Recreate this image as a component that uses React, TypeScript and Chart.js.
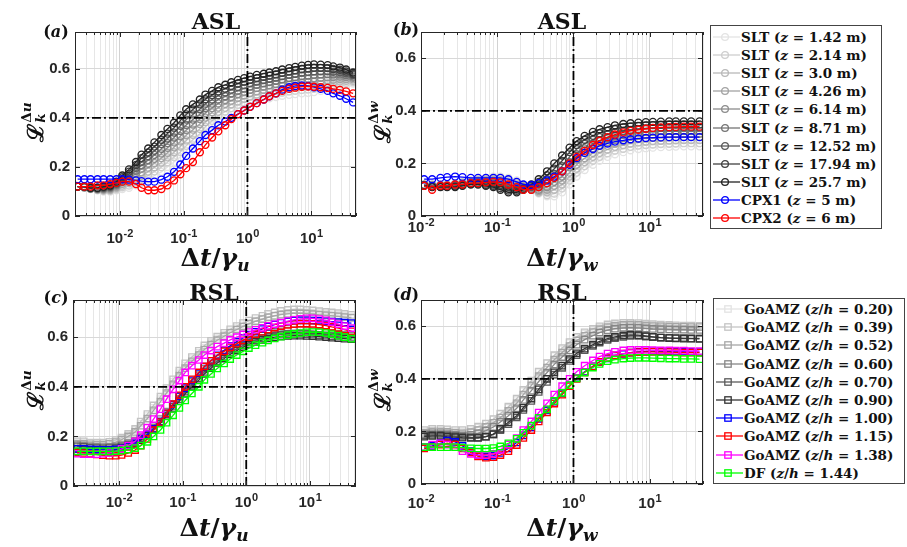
import React, { useEffect, useRef } from 'react';
import { Chart, registerables } from 'chart.js';

Chart.register(...registerables);

// ---------------- data ----------------
// time lags (normalised) shared by the u-panels and the w-panels
const LAGS_U = [0.0022, 0.0028, 0.0035, 0.0045, 0.0056, 0.0071, 0.0089, 0.011, 0.014, 0.018, 0.022, 0.028, 0.035, 0.045, 0.056, 0.071, 0.089, 0.11, 0.14, 0.18, 0.22, 0.28, 0.35, 0.45, 0.56, 0.71, 0.89, 1.1, 1.4, 1.8, 2.2, 2.8, 3.5, 4.5, 5.6, 7.1, 8.9, 11, 14, 18, 22, 28, 35, 45];
const LAGS_W = [0.011, 0.014, 0.018, 0.022, 0.028, 0.035, 0.045, 0.056, 0.071, 0.089, 0.11, 0.14, 0.18, 0.22, 0.28, 0.35, 0.45, 0.56, 0.71, 0.89, 1.1, 1.4, 1.8, 2.2, 2.8, 3.5, 4.5, 5.6, 7.1, 8.9, 11, 14, 18, 22, 28, 35, 45];

const SLT_HEIGHTS = ['1.42', '2.14', '3.0', '4.26', '6.14', '8.71', '12.52', '17.94', '25.7'];
const CPX_NAMES = ['CPX1', 'CPX2'];
const CPX_HEIGHTS = ['5', '6'];
const GOAMZ_ZH = ['0.20', '0.39', '0.52', '0.60', '0.70', '0.90', '1.00', '1.15', '1.38'];
const DF_ZH = '1.44';

const REF_LEVEL = 0.4;
const REF_LAG = 1;

// (a) ASL, u
const A_SLT142 = [.12,.115,.11,.105,.1,.1,.105,.11,.115,.125,.135,.15,.165,.18,.2,.22,.24,.265,.29,.315,.345,.37,.392,.41,.425,.438,.45,.46,.468,.475,.48,.485,.49,.494,.497,.5,.502,.505,.51,.515,.522,.53,.535,.54];
const A_SLT214 = [.12,.116,.111,.106,.103,.103,.109,.117,.124,.137,.149,.166,.182,.199,.219,.24,.261,.286,.311,.335,.364,.388,.409,.426,.44,.453,.464,.474,.481,.488,.493,.498,.503,.508,.511,.514,.516,.519,.523,.528,.533,.539,.543,.546];
const A_SLT300 = [.12,.116,.111,.108,.105,.106,.114,.124,.134,.149,.164,.181,.199,.218,.239,.26,.283,.308,.331,.355,.383,.405,.425,.441,.455,.467,.478,.487,.495,.501,.506,.511,.517,.521,.525,.528,.531,.533,.537,.54,.544,.549,.551,.551];
const A_SLT426 = [.12,.117,.112,.109,.108,.109,.118,.131,.143,.161,.178,.197,.216,.236,.258,.28,.304,.329,.352,.375,.401,.423,.442,.457,.47,.482,.492,.501,.508,.514,.519,.524,.53,.535,.539,.542,.545,.547,.55,.553,.555,.558,.558,.557];
const A_SLT614 = [.12,.118,.113,.11,.11,.113,.123,.138,.153,.173,.193,.213,.233,.255,.278,.3,.325,.35,.373,.395,.42,.44,.459,.473,.485,.497,.506,.514,.522,.528,.533,.538,.544,.549,.553,.557,.559,.562,.564,.565,.566,.568,.566,.563];
const A_SLT871 = [.12,.118,.113,.111,.113,.116,.127,.144,.162,.184,.207,.228,.249,.274,.297,.32,.346,.371,.393,.415,.439,.458,.475,.488,.5,.511,.52,.528,.535,.541,.546,.551,.557,.562,.566,.571,.573,.576,.577,.578,.577,.577,.574,.568];
const A_SLT1252 = [.12,.119,.114,.113,.115,.119,.131,.151,.171,.196,.221,.244,.266,.293,.316,.34,.368,.393,.414,.435,.458,.475,.492,.504,.515,.526,.534,.541,.548,.554,.559,.564,.57,.576,.58,.585,.588,.59,.59,.59,.588,.586,.582,.574];
const A_SLT1794 = [.12,.119,.114,.114,.118,.122,.136,.158,.181,.208,.236,.259,.283,.311,.336,.36,.389,.414,.434,.455,.476,.493,.508,.519,.53,.54,.548,.555,.562,.567,.572,.577,.584,.589,.594,.599,.602,.604,.604,.603,.599,.596,.589,.579];
const A_SLT2570 = [.12,.12,.115,.115,.12,.125,.14,.165,.19,.22,.25,.275,.3,.33,.355,.38,.41,.435,.455,.475,.495,.51,.525,.535,.545,.555,.562,.568,.575,.58,.585,.59,.597,.603,.608,.613,.616,.618,.617,.615,.61,.605,.597,.585];
const A_CPX1 = [.15,.15,.15,.15,.15,.15,.15,.15,.148,.145,.142,.14,.14,.148,.16,.18,.21,.245,.275,.305,.33,.35,.37,.385,.4,.415,.43,.445,.46,.475,.488,.5,.515,.525,.53,.532,.53,.525,.518,.51,.5,.49,.478,.463];
const A_CPX2 = [.12,.12,.12,.125,.125,.13,.135,.14,.14,.13,.115,.105,.105,.11,.125,.145,.17,.195,.22,.26,.29,.32,.345,.37,.395,.415,.43,.445,.46,.475,.488,.5,.51,.518,.523,.527,.528,.527,.525,.522,.518,.514,.508,.5];

// (b) ASL, w
const B_SLT142 = [.12,.12,.12,.12,.125,.13,.135,.14,.145,.15,.15,.145,.135,.12,.10,.085,.075,.075,.09,.12,.15,.175,.195,.21,.225,.235,.243,.25,.255,.258,.26,.262,.263,.264,.265,.265,.265];
const B_SLT214 = [.119,.119,.119,.119,.123,.128,.133,.138,.141,.145,.144,.138,.129,.118,.10,.088,.08,.085,.105,.135,.165,.19,.21,.225,.239,.249,.256,.263,.268,.27,.272,.274,.275,.276,.277,.277,.277];
const B_SLT300 = [.119,.118,.118,.118,.121,.126,.131,.135,.138,.14,.138,.131,.124,.115,.10,.09,.09,.10,.12,.15,.18,.205,.225,.24,.253,.263,.27,.276,.28,.283,.285,.286,.287,.288,.289,.289,.289];
const B_SLT426 = [.118,.116,.116,.116,.119,.124,.129,.133,.134,.135,.131,.124,.118,.113,.10,.095,.10,.115,.135,.165,.195,.22,.24,.255,.267,.276,.283,.289,.293,.295,.297,.298,.299,.3,.301,.301,.301];
const B_SLT614 = [.118,.115,.115,.115,.118,.123,.128,.13,.13,.13,.125,.118,.113,.11,.10,.10,.11,.13,.15,.185,.215,.24,.258,.27,.282,.29,.297,.302,.305,.308,.309,.311,.312,.312,.313,.313,.313];
const B_SLT871 = [.117,.114,.114,.114,.116,.121,.126,.128,.126,.125,.119,.111,.107,.108,.105,.11,.125,.145,.17,.205,.235,.257,.274,.285,.296,.304,.31,.314,.318,.32,.321,.323,.324,.324,.324,.324,.324];
const B_SLT1252 = [.116,.113,.113,.113,.114,.119,.124,.125,.123,.12,.113,.104,.101,.105,.11,.12,.14,.16,.19,.225,.255,.275,.29,.30,.31,.318,.323,.327,.33,.333,.334,.335,.336,.336,.336,.336,.336];
const B_SLT1794 = [.116,.111,.111,.111,.112,.117,.122,.123,.119,.115,.106,.097,.096,.103,.115,.13,.155,.18,.21,.243,.27,.29,.305,.315,.324,.331,.337,.34,.343,.345,.346,.347,.348,.348,.348,.348,.348];
const B_SLT2570 = [.115,.11,.11,.11,.11,.115,.12,.12,.115,.11,.10,.09,.09,.10,.12,.14,.17,.20,.23,.26,.285,.305,.32,.33,.338,.345,.35,.353,.355,.357,.358,.359,.36,.36,.36,.36,.36];
const B_CPX1 = [.14,.14,.145,.148,.15,.148,.145,.145,.145,.145,.145,.14,.13,.12,.118,.125,.135,.15,.17,.195,.22,.24,.255,.267,.276,.283,.288,.292,.295,.297,.298,.299,.3,.3,.3,.3,.3];
const B_CPX2 = [.115,.10,.115,.115,.12,.12,.125,.125,.128,.13,.128,.12,.11,.10,.10,.11,.125,.145,.17,.20,.225,.248,.27,.287,.30,.31,.318,.324,.328,.332,.335,.337,.338,.339,.34,.34,.34];

// (c) RSL, u
const C_G020 = [.175,.175,.172,.17,.17,.172,.18,.19,.205,.225,.252,.282,.315,.35,.385,.42,.455,.485,.512,.537,.558,.577,.594,.61,.624,.637,.648,.658,.667,.675,.682,.688,.693,.697,.699,.70,.70,.699,.697,.695,.693,.69,.687,.683];
const C_G039 = [.18,.18,.175,.175,.175,.178,.185,.195,.21,.23,.26,.29,.325,.36,.395,.43,.465,.495,.52,.545,.567,.585,.602,.618,.632,.645,.657,.667,.677,.686,.694,.70,.706,.71,.712,.712,.71,.708,.705,.702,.70,.697,.694,.69];
const C_G052 = [.17,.17,.168,.167,.167,.17,.177,.187,.2,.218,.243,.272,.305,.34,.375,.41,.445,.475,.503,.528,.55,.57,.588,.604,.618,.631,.643,.654,.664,.673,.68,.686,.691,.694,.696,.696,.695,.693,.69,.688,.686,.684,.681,.678];
const C_G060 = [.165,.163,.16,.158,.157,.158,.16,.165,.172,.182,.197,.217,.242,.27,.3,.33,.36,.39,.42,.447,.472,.495,.515,.533,.55,.565,.578,.59,.6,.608,.615,.62,.624,.627,.628,.628,.627,.625,.622,.62,.617,.614,.61,.606];
const C_G070 = [.16,.158,.155,.153,.152,.153,.155,.16,.167,.177,.192,.21,.233,.26,.29,.32,.35,.38,.408,.435,.46,.483,.503,.521,.538,.553,.566,.578,.588,.596,.602,.607,.61,.612,.613,.613,.612,.61,.608,.606,.604,.602,.6,.598];
const C_G090 = [.15,.148,.146,.145,.145,.146,.148,.153,.16,.17,.185,.203,.226,.253,.282,.312,.342,.372,.4,.427,.452,.475,.496,.514,.531,.546,.559,.571,.581,.589,.595,.6,.603,.605,.606,.606,.605,.604,.602,.6,.598,.596,.594,.592];
const C_G100 = [.15,.15,.148,.147,.146,.146,.148,.152,.16,.172,.19,.208,.23,.26,.293,.328,.362,.395,.426,.455,.481,.505,.527,.547,.565,.582,.597,.61,.622,.633,.643,.651,.658,.663,.667,.668,.668,.667,.666,.665,.663,.661,.659,.657];
const C_G115 = [.135,.133,.13,.127,.124,.122,.122,.125,.133,.145,.163,.19,.225,.258,.293,.33,.366,.4,.43,.458,.482,.505,.525,.543,.559,.574,.587,.6,.612,.622,.631,.639,.645,.65,.653,.655,.655,.654,.651,.647,.642,.637,.631,.624];
const C_G138 = [.13,.128,.128,.128,.13,.133,.14,.15,.163,.18,.205,.235,.27,.31,.35,.39,.425,.458,.485,.508,.528,.546,.562,.576,.589,.6,.611,.621,.63,.638,.646,.653,.659,.665,.67,.674,.676,.676,.673,.668,.661,.653,.645,.637];
const C_DF144 = [.14,.14,.14,.14,.14,.14,.141,.143,.147,.153,.163,.178,.2,.226,.255,.285,.315,.345,.373,.4,.428,.452,.474,.494,.512,.528,.543,.556,.568,.578,.587,.595,.602,.608,.613,.617,.62,.621,.62,.617,.612,.606,.6,.594];

// (d) RSL, w
const D_G020 = [.2,.205,.207,.205,.2,.2,.205,.215,.228,.245,.265,.29,.32,.353,.39,.425,.458,.487,.513,.536,.556,.572,.585,.595,.602,.606,.608,.608,.607,.605,.603,.602,.601,.6,.6,.6,.6];
const D_G039 = [.205,.21,.21,.208,.205,.205,.21,.218,.23,.247,.268,.294,.325,.358,.393,.428,.46,.49,.517,.54,.56,.577,.59,.6,.607,.611,.613,.613,.612,.61,.608,.606,.605,.604,.603,.603,.602];
const D_G052 = [.195,.2,.2,.198,.195,.193,.197,.205,.217,.233,.253,.278,.307,.34,.375,.41,.443,.473,.5,.525,.546,.564,.578,.589,.597,.602,.605,.606,.605,.603,.601,.6,.599,.598,.598,.597,.597];
const D_G060 = [.19,.193,.193,.19,.187,.185,.187,.193,.203,.217,.236,.26,.288,.32,.355,.39,.424,.455,.483,.508,.53,.549,.564,.576,.585,.591,.594,.595,.594,.592,.59,.589,.588,.587,.587,.586,.586];
const D_G070 = [.185,.187,.187,.185,.182,.18,.178,.177,.18,.188,.205,.228,.253,.282,.316,.35,.388,.416,.442,.468,.49,.509,.525,.538,.548,.555,.56,.563,.563,.561,.559,.557,.556,.555,.555,.554,.554];
const D_G090 = [.18,.183,.183,.18,.178,.176,.175,.175,.18,.19,.21,.235,.26,.29,.325,.36,.4,.425,.45,.475,.497,.515,.53,.543,.553,.56,.565,.567,.566,.563,.56,.557,.555,.554,.553,.553,.552];
const D_G100 = [.14,.145,.155,.165,.16,.145,.125,.11,.105,.108,.118,.135,.158,.185,.215,.248,.28,.313,.345,.375,.403,.427,.448,.465,.478,.488,.495,.5,.503,.504,.505,.505,.505,.504,.504,.503,.502];
const D_G115 = [.135,.14,.15,.155,.15,.135,.12,.105,.1,.102,.11,.125,.148,.175,.205,.238,.272,.306,.34,.372,.4,.425,.447,.465,.479,.489,.496,.5,.502,.503,.503,.502,.502,.501,.5,.5,.5];
const D_G138 = [.14,.15,.155,.15,.14,.125,.115,.11,.11,.115,.13,.15,.175,.205,.238,.272,.307,.34,.372,.4,.427,.45,.47,.485,.496,.503,.508,.51,.51,.51,.509,.508,.508,.507,.507,.506,.506];
const D_DF144 = [.14,.14,.14,.14,.14,.138,.136,.135,.135,.137,.143,.155,.172,.195,.222,.252,.284,.316,.347,.376,.402,.424,.443,.457,.467,.473,.477,.479,.48,.48,.479,.478,.477,.477,.476,.476,.475];

// ---------------- styling ----------------
const SLT_COLORS = ['#e3e3e3', '#cecece', '#b9b9b9', '#a3a3a3', '#8c8c8c', '#747474', '#5b5b5b', '#404040', '#232323'];
const CPX_COLORS = ['#0000ff', '#ff0000'];
const RSL_COLORS = ['#e3e3e3', '#c4c4c4', '#a6a6a6', '#868686', '#5a5a5a', '#333333', '#0000ff', '#ff0000', '#ff00ff', '#00ff00'];

const SERIF = "'DejaVu Serif', 'Liberation Serif', serif";
const SANS = "'Liberation Sans', Arial, sans-serif";
const TICK_FONT = { family: SANS, size: 15, weight: 'bold' as const };
const Y_AXIS_W = 46;
const X_AXIS_H = 34;
const PAD_T = 18;
const PAD_R = 22;

type Series = { label: string; data: number[]; color: string };

const aslU: Series[] = [
  ...[A_SLT142, A_SLT214, A_SLT300, A_SLT426, A_SLT614, A_SLT871, A_SLT1252, A_SLT1794, A_SLT2570].map((d, i) => ({ label: `SLT (z = ${SLT_HEIGHTS[i]} m)`, data: d, color: SLT_COLORS[i] })),
  ...[A_CPX1, A_CPX2].map((d, i) => ({ label: `${CPX_NAMES[i]} (z = ${CPX_HEIGHTS[i]} m)`, data: d, color: CPX_COLORS[i] })),
];
const aslW: Series[] = [
  ...[B_SLT142, B_SLT214, B_SLT300, B_SLT426, B_SLT614, B_SLT871, B_SLT1252, B_SLT1794, B_SLT2570].map((d, i) => ({ label: `SLT (z = ${SLT_HEIGHTS[i]} m)`, data: d, color: SLT_COLORS[i] })),
  ...[B_CPX1, B_CPX2].map((d, i) => ({ label: `${CPX_NAMES[i]} (z = ${CPX_HEIGHTS[i]} m)`, data: d, color: CPX_COLORS[i] })),
];
const rslLabel = (i: number) => (i < GOAMZ_ZH.length ? `GoAMZ (z/h = ${GOAMZ_ZH[i]})` : `DF (z/h = ${DF_ZH})`);
const rslU: Series[] = [C_G020, C_G039, C_G052, C_G060, C_G070, C_G090, C_G100, C_G115, C_G138, C_DF144].map((d, i) => ({ label: rslLabel(i), data: d, color: RSL_COLORS[i] }));
const rslW: Series[] = [D_G020, D_G039, D_G052, D_G060, D_G070, D_G090, D_G100, D_G115, D_G138, D_DF144].map((d, i) => ({ label: rslLabel(i), data: d, color: RSL_COLORS[i] }));

// ---------------- helpers ----------------
const isDecade = (v: number) => {
  const lg = Math.log10(v);
  return Math.abs(lg - Math.round(lg)) < 1e-6;
};
const decadeLabel = (v: any) => {
  const val = Number(v);
  if (!isDecade(val)) return '';
  return '10^' + Math.round(Math.log10(val));
};
const logTicks = (min: number, max: number) => {
  const out: { value: number; major: boolean }[] = [];
  for (let e = Math.floor(Math.log10(min)); e <= Math.ceil(Math.log10(max)); e++) {
    for (let m = 1; m <= 9; m++) {
      const v = m * Math.pow(10, e);
      if (v >= min * 0.9999 && v <= max * 1.0001) out.push({ value: v, major: m === 1 });
    }
  }
  return out;
};
const linTicks = (max: number) => {
  const out: { value: number }[] = [];
  for (let k = 0; k * 0.2 <= max + 1e-9; k++) out.push({ value: Math.round(k * 2) / 10 });
  return out;
};

// MATLAB-like box, inward ticks and 10^n tick labels with a real superscript
const framePlugin = {
  id: 'matlabFrame',
  afterDraw(chart: any, _args: any, opts: any) {
    const { ctx, chartArea: a, scales } = chart;
    ctx.save();
    ctx.strokeStyle = '#262626';
    ctx.lineWidth = 1;
    ctx.strokeRect(Math.round(a.left) + 0.5, Math.round(a.top) + 0.5, Math.round(a.right - a.left) - 1, Math.round(a.bottom - a.top) - 1);
    ctx.beginPath();
    scales.x.ticks.forEach((t: any) => {
      const px = Math.round(scales.x.getPixelForValue(t.value)) + 0.5;
      const len = isDecade(t.value) ? 5 : 3;
      ctx.moveTo(px, a.bottom);
      ctx.lineTo(px, a.bottom - len);
      ctx.moveTo(px, a.top);
      ctx.lineTo(px, a.top + len);
    });
    scales.y.ticks.forEach((t: any) => {
      const py = Math.round(scales.y.getPixelForValue(t.value)) + 0.5;
      ctx.moveTo(a.left, py);
      ctx.lineTo(a.left + 5, py);
      ctx.moveTo(a.right, py);
      ctx.lineTo(a.right - 5, py);
    });
    ctx.stroke();

    const baseY = a.bottom + (opts.labelOffset || 24);
    ctx.fillStyle = '#262626';
    ctx.textBaseline = 'alphabetic';
    ctx.textAlign = 'left';
    scales.x.ticks.forEach((t: any) => {
      if (!isDecade(t.value)) return;
      const px = scales.x.getPixelForValue(t.value);
      const base = '10';
      const exp = String(Math.round(Math.log10(t.value)));
      ctx.font = `bold 15px ${SANS}`;
      const wb = ctx.measureText(base).width;
      ctx.font = `bold 11px ${SANS}`;
      const we = ctx.measureText(exp).width;
      const x0 = px - (wb + we) / 2;
      ctx.font = `bold 15px ${SANS}`;
      ctx.fillText(base, x0, baseY);
      ctx.font = `bold 11px ${SANS}`;
      ctx.fillText(exp, x0 + wb + 0.5, baseY - 6);
    });
    ctx.restore();
  },
};

type PanelProps = {
  left: number; top: number; width: number; height: number;
  lags: number[]; series: Series[]; marker: 'circle' | 'rect';
  xMin: number; xMax: number; yMax: number; labelOffset: number;
};

function Panel(p: PanelProps) {
  const ref = useRef<HTMLCanvasElement>(null);
  const cw = Y_AXIS_W + p.width + PAD_R;
  const ch = PAD_T + p.height + X_AXIS_H;
  useEffect(() => {
    const canvas = ref.current;
    if (!canvas) return;
    const n = p.series.length;
    const datasets: any[] = p.series.map((s, i) => ({
      label: s.label,
      data: s.data.map((y, j) => ({ x: p.lags[j], y })),
      borderColor: s.color,
      backgroundColor: 'rgba(0,0,0,0)',
      pointBorderColor: s.color,
      pointBackgroundColor: 'rgba(0,0,0,0)',
      pointStyle: p.marker,
      pointRadius: p.marker === 'rect' ? 4.5 : 3.5,
      pointBorderWidth: 1.35,
      borderWidth: 1.3,
      tension: 0,
      fill: false,
      order: n - i + 1,
    }));
    const refStyle = { borderColor: '#000', borderWidth: 1.8, borderDash: [9, 3, 2, 3], pointRadius: 0, fill: false, order: 0 };
    datasets.push({ label: 'ref level', data: [{ x: p.xMin, y: REF_LEVEL }, { x: p.xMax, y: REF_LEVEL }], ...refStyle });
    datasets.push({ label: 'ref lag', data: [{ x: REF_LAG, y: 0 }, { x: REF_LAG, y: p.yMax }], ...refStyle });

    const chart = new Chart(canvas, {
      type: 'line',
      data: { datasets },
      options: {
        animation: false,
        responsive: false,
        devicePixelRatio: 1,
        layout: { padding: { left: 0, right: PAD_R, top: PAD_T, bottom: 0 } },
        plugins: {
          legend: { display: false },
          tooltip: { enabled: false },
          title: { display: false },
          matlabFrame: { labelOffset: p.labelOffset },
        },
        scales: {
          x: {
            type: 'logarithmic',
            min: p.xMin,
            max: p.xMax,
            afterBuildTicks: (sc: any) => { sc.ticks = logTicks(p.xMin, p.xMax); },
            afterFit: (sc: any) => { sc.height = X_AXIS_H; },
            grid: {
              drawTicks: false,
              lineWidth: 1,
              color: (c: any) => (c.tick && isDecade(c.tick.value) ? '#d2d2d2' : '#e6e6e6'),
            },
            border: { display: false },
            ticks: { display: false, autoSkip: false, maxRotation: 0, callback: decadeLabel },
          },
          y: {
            type: 'linear',
            min: 0,
            max: p.yMax,
            afterBuildTicks: (sc: any) => { sc.ticks = linTicks(p.yMax); },
            afterFit: (sc: any) => { sc.width = Y_AXIS_W; },
            grid: { drawTicks: false, color: '#d8d8d8', lineWidth: 1 },
            border: { display: false },
            ticks: { padding: 5, color: '#262626', font: TICK_FONT, callback: (v: any) => (Number(v) === 0 ? '0' : Number(v).toFixed(1)) },
          },
        },
      } as any,
      plugins: [framePlugin],
    });
    return () => chart.destroy();
  }, []);
  return (
    <canvas
      ref={ref}
      width={cw}
      height={ch}
      style={{ position: 'absolute', left: p.left - Y_AXIS_W, top: p.top - PAD_T, width: cw, height: ch }}
    />
  );
}

const center = (x: number, y: number): React.CSSProperties => ({
  position: 'absolute', left: x, top: y, transform: 'translate(-50%,-50%)', whiteSpace: 'nowrap', lineHeight: 1, color: '#111',
});

function Title({ x, y, text }: { x: number; y: number; text: string }) {
  return <div style={{ ...center(x, y), font: `bold 22px ${SERIF}` }}>{text}</div>;
}
function Letter({ x, y, l }: { x: number; y: number; l: string }) {
  return <div style={{ ...center(x, y), font: `bold 16px ${SERIF}` }}>(<i>{l}</i>)</div>;
}
function XTitle({ x, y, comp }: { x: number; y: number; comp: string }) {
  return (
    <div style={{ ...center(x, y), font: `bold 25px ${SERIF}` }}>
      Δ<i>t</i>/<i>γ</i><span style={{ fontSize: '0.68em', verticalAlign: '-0.3em', fontStyle: 'italic' }}>{comp}</span>
    </div>
  );
}
function YTitle({ x, y, comp }: { x: number; y: number; comp: string }) {
  return (
    <div style={{ ...center(x, y), transform: 'translate(-50%,-50%) rotate(-90deg)', font: `bold 22px ${SERIF}`, display: 'flex', alignItems: 'center' }}>
      <span>ℒ</span>
      <span style={{ display: 'inline-flex', flexDirection: 'column', fontSize: '0.62em', lineHeight: 1.0, marginLeft: 1 }}>
        <span>Δ<i>{comp}</i></span>
        <span><i>k</i></span>
      </span>
    </div>
  );
}

type LegendItem = { color: string; content: React.ReactNode };
function Legend(props: { left: number; top: number; width: number; height: number; rowTop: number; rowH: number; marker: 'circle' | 'rect'; items: LegendItem[]; fontSize: number }) {
  return (
    <div style={{ position: 'absolute', left: props.left, top: props.top, width: props.width, height: props.height, border: '1px solid #444', background: '#fff', boxSizing: 'border-box' }}>
      {props.items.map((it, i) => (
        <div key={i} style={{ position: 'absolute', left: 0, top: props.rowTop + i * props.rowH, height: props.rowH, display: 'flex', alignItems: 'center', whiteSpace: 'nowrap' }}>
          <svg width={29} height={10} style={{ display: 'block' }}>
            <line x1={2} y1={5} x2={29} y2={5} stroke={it.color} strokeWidth={1.3} />
            {props.marker === 'circle'
              ? <circle cx={14} cy={5} r={3.4} fill="none" stroke={it.color} strokeWidth={1.3} />
              : <rect x={10.8} y={1.8} width={6.4} height={6.4} fill="none" stroke={it.color} strokeWidth={1.3} />}
          </svg>
          <span style={{ font: `bold ${props.fontSize}px ${SERIF}`, color: '#111', marginLeft: 1 }}>{it.content}</span>
        </div>
      ))}
    </div>
  );
}

export default function App() {
  const topItems: LegendItem[] = [
    ...SLT_HEIGHTS.map((h, i) => ({ color: SLT_COLORS[i], content: <>SLT (<i>z</i> = {h} m)</> })),
    ...CPX_NAMES.map((nm, i) => ({ color: CPX_COLORS[i], content: <>{nm} (<i>z</i> = {CPX_HEIGHTS[i]} m)</> })),
  ];
  const bottomItems: LegendItem[] = RSL_COLORS.map((c, i) => ({
    color: c,
    content: i < GOAMZ_ZH.length
      ? <>GoAMZ (<i>z</i>/<i>h</i> = {GOAMZ_ZH[i]})</>
      : <>DF (<i>z</i>/<i>h</i> = {DF_ZH})</>,
  }));
  return (
    <div style={{ position: 'fixed', left: 0, top: 0, width: 907, height: 547, background: '#fff', overflow: 'hidden' }}>
      <Panel left={75} top={32} width={281} height={184} lags={LAGS_U} series={aslU} marker="circle" xMin={0.002} xMax={50} yMax={0.75} labelOffset={27} />
      <Panel left={421} top={32} width={282} height={184} lags={LAGS_W} series={aslW} marker="circle" xMin={0.01} xMax={50} yMax={0.7} labelOffset={16} />
      <Panel left={73} top={300} width={283} height={186} lags={LAGS_U} series={rslU} marker="rect" xMin={0.0019} xMax={53} yMax={0.75} labelOffset={21} />
      <Panel left={421} top={300} width={282} height={184} lags={LAGS_W} series={rslW} marker="rect" xMin={0.01} xMax={50} yMax={0.7} labelOffset={24} />

      <Title x={216} y={21} text="ASL" />
      <Title x={562} y={21} text="ASL" />
      <Title x={214} y={292} text="RSL" />
      <Title x={562} y={292} text="RSL" />

      <Letter x={56} y={31} l="a" />
      <Letter x={406} y={29} l="b" />
      <Letter x={56} y={297} l="c" />
      <Letter x={406} y={294} l="d" />

      <XTitle x={215} y={259} comp="u" />
      <XTitle x={562} y={259} comp="w" />
      <XTitle x={214} y={529} comp="u" />
      <XTitle x={562} y={529} comp="w" />

      <YTitle x={34} y={122} comp="u" />
      <YTitle x={381} y={122} comp="w" />
      <YTitle x={34} y={390} comp="u" />
      <YTitle x={381} y={390} comp="w" />

      <Legend left={710} top={25} width={172} height={204} rowTop={2} rowH={18.1} marker="circle" items={topItems} fontSize={13.5} />
      <Legend left={713} top={298} width={192} height={186} rowTop={1} rowH={18.2} marker="rect" items={bottomItems} fontSize={13.5} />
    </div>
  );
}
